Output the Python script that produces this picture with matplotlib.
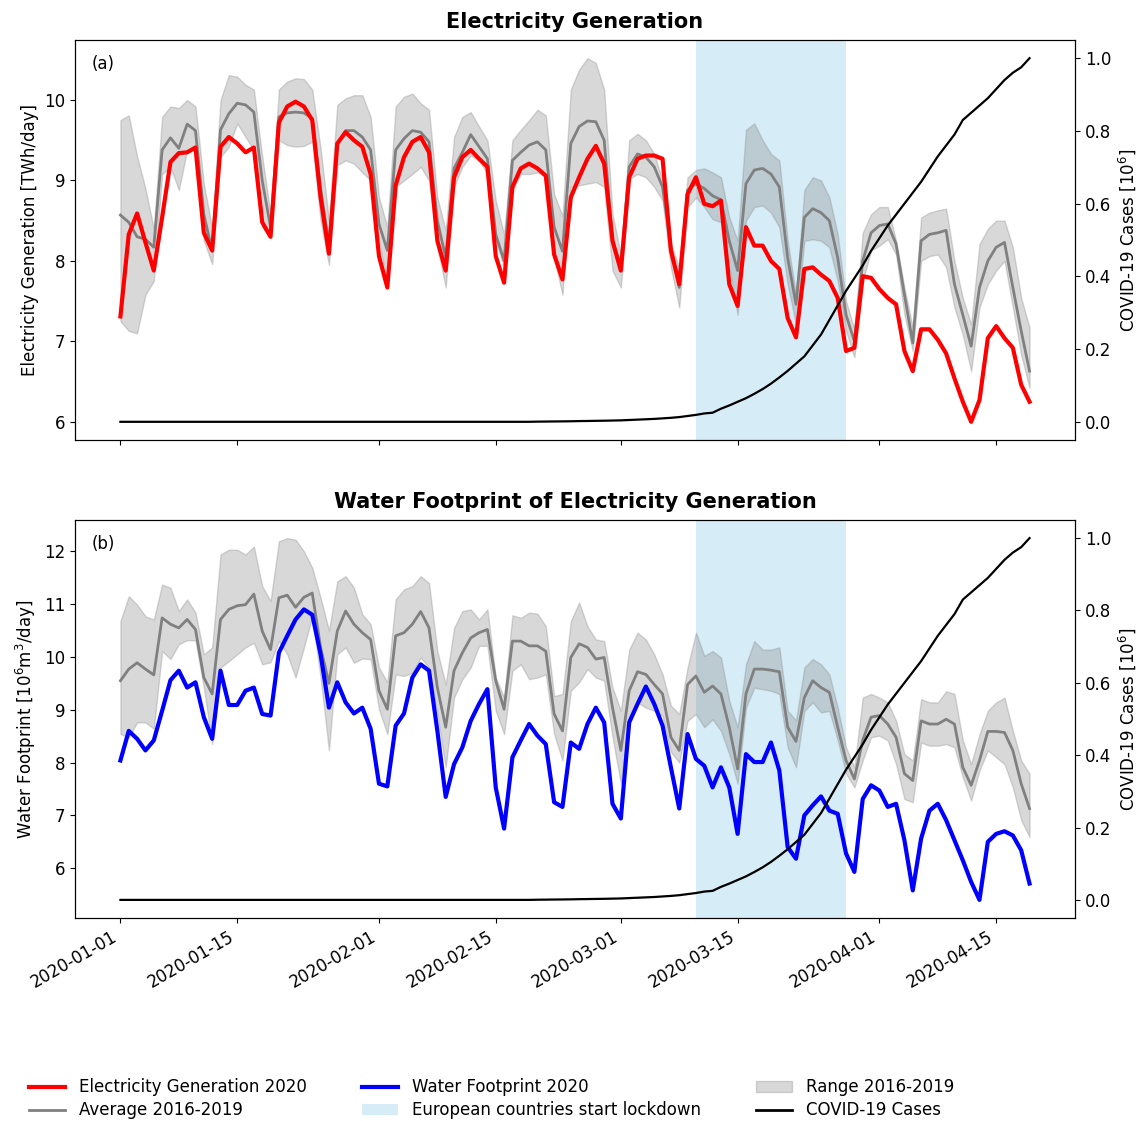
import numpy as np
import matplotlib

matplotlib.use("Agg")
import matplotlib.pyplot as plt
import matplotlib.dates as mdates
from matplotlib.lines import Line2D
from matplotlib.patches import Patch

# daily values, 2020-01-01 .. 2020-04-19
dates = np.arange("2020-01-01", "2020-04-20", dtype="datetime64[D]")

elec_2020 = [
    7.31, 8.33, 8.59, 8.23, 7.88, 8.54, 9.23, 9.34, 9.35, 9.41,
    8.35, 8.13, 9.42, 9.54, 9.46, 9.35, 9.41, 8.48, 8.30, 9.72,
    9.92, 9.98, 9.92, 9.75, 8.79, 8.09, 9.46, 9.60, 9.50, 9.42,
    9.08, 8.06, 7.67, 8.94, 9.29, 9.48, 9.54, 9.35, 8.25, 7.88,
    9.04, 9.29, 9.38, 9.27, 9.17, 8.06, 7.73, 8.92, 9.15, 9.21,
    9.15, 9.06, 8.08, 7.77, 8.79, 9.04, 9.27, 9.43, 9.21, 8.25,
    7.88, 9.04, 9.27, 9.31, 9.31, 9.27, 8.13, 7.71, 8.83, 9.04,
    8.71, 8.68, 8.75, 7.71, 7.44, 8.42, 8.19, 8.19, 8.00, 7.90,
    7.29, 7.05, 7.90, 7.92, 7.83, 7.75, 7.54, 6.88, 6.92, 7.81,
    7.79, 7.65, 7.54, 7.46, 6.88, 6.63, 7.15, 7.15, 7.02, 6.85,
    6.54, 6.25, 6.00, 6.27, 7.04, 7.19, 7.04, 6.92, 6.46, 6.25,
]
elec_avg = [
    8.57, 8.48, 8.30, 8.27, 8.17, 9.38, 9.53, 9.40, 9.70, 9.62,
    8.58, 8.12, 9.63, 9.83, 9.96, 9.94, 9.85, 9.00, 8.42, 9.79,
    9.84, 9.85, 9.84, 9.77, 8.90, 8.20, 9.45, 9.62, 9.62, 9.54,
    9.38, 8.46, 8.13, 9.38, 9.52, 9.62, 9.60, 9.48, 8.50, 8.04,
    9.15, 9.35, 9.57, 9.42, 9.27, 8.33, 8.00, 9.25, 9.35, 9.44,
    9.48, 9.38, 8.42, 8.12, 9.46, 9.67, 9.74, 9.73, 9.50, 8.25,
    7.92, 9.17, 9.33, 9.29, 9.17, 8.92, 8.17, 7.67, 8.88, 8.96,
    8.90, 8.81, 8.76, 8.25, 7.88, 8.96, 9.13, 9.15, 9.08, 8.92,
    8.04, 7.46, 8.54, 8.65, 8.60, 8.50, 8.04, 7.33, 7.00, 8.00,
    8.35, 8.44, 8.46, 8.21, 7.58, 6.98, 8.25, 8.33, 8.35, 8.38,
    7.71, 7.33, 6.94, 7.67, 8.00, 8.17, 8.23, 7.67, 7.13, 6.63,
]
elec_max = [
    9.75, 9.81, 9.30, 8.90, 8.40, 9.79, 9.92, 9.90, 10.00, 9.92,
    8.96, 8.40, 10.00, 10.31, 10.29, 10.19, 10.13, 9.30, 8.58, 10.13,
    10.23, 10.27, 10.26, 10.13, 9.40, 8.50, 9.94, 10.02, 10.06, 10.06,
    9.79, 8.79, 8.42, 9.92, 10.04, 10.08, 9.96, 9.88, 8.79, 8.38,
    9.54, 9.79, 9.85, 9.67, 9.50, 8.75, 8.33, 9.50, 9.63, 9.75,
    9.88, 9.81, 8.83, 8.56, 10.13, 10.38, 10.52, 10.46, 10.13, 8.58,
    8.08, 9.50, 9.58, 9.50, 9.33, 9.00, 8.21, 7.92, 9.04, 9.13,
    9.15, 9.10, 9.04, 8.54, 8.25, 9.63, 9.71, 9.50, 9.33, 9.25,
    8.25, 7.58, 8.88, 9.04, 9.00, 8.79, 8.33, 7.50, 7.15, 8.35,
    8.58, 8.67, 8.67, 8.25, 7.67, 7.17, 8.54, 8.60, 8.63, 8.65,
    8.00, 7.54, 7.21, 8.21, 8.40, 8.50, 8.50, 8.17, 7.54, 7.17,
]
elec_min = [
    7.25, 7.13, 7.10, 7.58, 7.75, 9.08, 9.17, 8.88, 9.38, 9.38,
    8.25, 7.96, 9.29, 9.42, 9.71, 9.54, 9.38, 8.42, 8.29, 9.50,
    9.44, 9.42, 9.43, 9.48, 8.50, 7.95, 9.19, 9.25, 9.21, 9.10,
    9.00, 8.25, 7.72, 8.92, 9.00, 9.08, 9.17, 9.00, 8.17, 7.67,
    8.92, 9.17, 9.31, 9.25, 9.08, 8.25, 7.92, 8.88, 9.08, 9.08,
    9.10, 9.04, 8.04, 7.58, 8.92, 8.94, 8.96, 8.98, 8.92, 7.88,
    7.67, 9.02, 9.08, 9.04, 8.92, 8.75, 7.92, 7.42, 8.67, 8.79,
    8.67, 8.52, 8.48, 7.92, 7.33, 8.50, 8.67, 8.69, 8.60, 8.42,
    7.71, 7.21, 8.25, 8.27, 8.25, 8.17, 7.75, 7.13, 6.80, 7.75,
    8.13, 8.19, 8.27, 8.08, 7.33, 6.88, 8.00, 8.06, 8.08, 7.92,
    7.42, 7.08, 6.63, 7.42, 7.71, 7.88, 8.00, 7.42, 6.83, 6.42,
]

water_2020 = [
    8.04, 8.60, 8.45, 8.23, 8.42, 8.98, 9.56, 9.74, 9.42, 9.52,
    8.86, 8.45, 9.74, 9.09, 9.09, 9.36, 9.42, 8.92, 8.89, 10.08,
    10.40, 10.71, 10.90, 10.80, 10.05, 9.04, 9.52, 9.14, 8.93, 9.04,
    8.64, 7.60, 7.55, 8.70, 8.93, 9.61, 9.86, 9.74, 8.60, 7.35,
    7.97, 8.29, 8.79, 9.11, 9.39, 7.53, 6.75, 8.10, 8.42, 8.73,
    8.51, 8.35, 7.25, 7.16, 8.38, 8.26, 8.73, 9.04, 8.76, 7.22,
    6.94, 8.76, 9.11, 9.44, 9.11, 8.70, 7.91, 7.13, 8.54, 8.07,
    7.94, 7.53, 7.91, 7.53, 6.65, 8.16, 8.01, 8.01, 8.38, 7.85,
    6.40, 6.18, 7.00, 7.19, 7.36, 7.09, 7.03, 6.28, 5.93, 7.31,
    7.57, 7.47, 7.16, 7.22, 6.53, 5.58, 6.56, 7.09, 7.22, 6.91,
    6.53, 6.15, 5.74, 5.40, 6.50, 6.65, 6.70, 6.62, 6.34, 5.71,
]
water_avg = [
    9.55, 9.77, 9.89, 9.77, 9.66, 10.74, 10.62, 10.55, 10.71, 10.52,
    9.61, 9.30, 10.71, 10.90, 10.97, 10.99, 11.19, 10.49, 10.14, 11.12,
    11.17, 10.94, 11.13, 11.21, 10.18, 9.50, 10.49, 10.87, 10.62, 10.46,
    10.33, 9.36, 9.01, 10.40, 10.46, 10.62, 10.86, 10.55, 9.42, 8.67,
    9.74, 10.08, 10.36, 10.46, 10.52, 9.55, 9.01, 10.30, 10.30, 10.21,
    10.21, 10.11, 8.92, 8.60, 9.99, 10.25, 10.18, 9.96, 9.99, 9.04,
    8.23, 9.36, 9.72, 9.67, 9.48, 9.30, 8.48, 8.23, 9.48, 9.64,
    9.33, 9.45, 9.30, 8.67, 7.88, 9.30, 9.77, 9.77, 9.75, 9.72,
    8.67, 8.40, 9.23, 9.55, 9.42, 9.33, 8.67, 8.04, 7.69, 8.42,
    8.86, 8.89, 8.73, 8.48, 7.79, 7.66, 8.79, 8.73, 8.73, 8.82,
    8.73, 7.91, 7.57, 8.04, 8.59, 8.59, 8.57, 8.23, 7.60, 7.13,
]
water_max = [
    10.68, 11.15, 10.99, 10.77, 10.71, 11.37, 11.31, 10.87, 11.09, 10.84,
    10.05, 10.18, 11.94, 12.03, 12.03, 11.94, 12.09, 11.34, 11.06, 12.19,
    12.25, 12.22, 12.00, 11.69, 11.12, 10.50, 11.43, 11.53, 11.31, 10.81,
    10.62, 9.80, 9.52, 11.09, 11.28, 11.34, 11.53, 11.40, 10.11, 9.48,
    10.55, 10.87, 10.90, 10.71, 10.90, 9.61, 9.23, 10.79, 10.74, 10.84,
    10.82, 10.58, 9.26, 9.30, 10.68, 11.03, 10.58, 10.33, 10.30, 9.42,
    8.98, 10.14, 10.46, 10.33, 10.05, 9.67, 9.08, 8.92, 9.80, 10.46,
    10.02, 10.11, 9.99, 9.17, 8.67, 9.86, 10.30, 10.14, 10.14, 10.18,
    8.98, 8.80, 9.80, 9.96, 9.86, 9.67, 9.04, 8.29, 7.91, 9.23,
    9.30, 9.23, 9.14, 8.79, 8.16, 8.04, 9.20, 9.14, 9.14, 9.35,
    9.30, 8.42, 7.97, 8.54, 8.98, 9.14, 9.23, 8.60, 8.04, 7.79,
]
water_min = [
    8.54, 8.48, 8.76, 8.76, 8.64, 10.11, 9.96, 10.24, 10.32, 10.31,
    9.42, 8.35, 9.80, 9.92, 10.05, 10.18, 10.27, 9.86, 9.90, 10.30,
    10.05, 9.61, 10.18, 10.77, 9.61, 8.23, 10.05, 10.18, 9.89, 9.97,
    9.96, 9.01, 8.54, 9.67, 9.64, 9.70, 9.99, 9.80, 8.92, 7.91,
    9.23, 9.58, 9.80, 10.21, 10.21, 8.98, 8.54, 9.74, 9.86, 9.58,
    9.61, 9.67, 8.54, 8.04, 9.36, 9.52, 9.77, 9.61, 9.55, 8.48,
    7.60, 8.86, 9.14, 9.04, 8.98, 8.89, 8.20, 8.00, 8.79, 8.92,
    8.67, 8.82, 8.60, 8.16, 7.60, 9.04, 9.42, 9.39, 9.36, 9.30,
    8.29, 7.91, 8.98, 9.14, 8.95, 8.98, 8.42, 7.79, 7.53, 8.04,
    8.48, 8.51, 8.42, 7.97, 7.31, 7.25, 8.38, 8.32, 8.32, 8.35,
    8.29, 7.72, 7.28, 7.85, 8.23, 8.10, 7.97, 7.53, 6.91, 6.59,
]

covid_cases = [
    0.0, 0.0, 0.0, 0.0, 0.0, 0.0, 0.0, 0.0, 0.0, 0.0,
    0.0, 0.0, 0.0, 0.0, 0.0, 0.0, 0.0, 0.0, 0.0, 0.0,
    0.0, 0.0, 0.0, 0.0, 0.0, 0.0, 0.0, 0.0, 0.0, 0.0,
    0.0, 0.0, 0.0, 0.0, 0.0, 0.0, 0.0, 0.0, 0.0, 0.0,
    0.0, 0.0, 0.0, 0.0, 0.0, 0.0, 0.0, 0.0, 0.0, 0.0,
    0.0005, 0.0007, 0.001, 0.0012, 0.0015, 0.002, 0.0023, 0.0027, 0.003, 0.0035,
    0.004, 0.005, 0.006, 0.007, 0.008, 0.0095, 0.011, 0.013, 0.016, 0.019,
    0.023, 0.025, 0.036, 0.045, 0.055, 0.065, 0.077, 0.090, 0.105, 0.122,
    0.140, 0.160, 0.180, 0.210, 0.240, 0.280, 0.320, 0.360, 0.395, 0.430,
    0.470, 0.505, 0.540, 0.570, 0.600, 0.630, 0.660, 0.695, 0.730, 0.760,
    0.790, 0.830, 0.850, 0.870, 0.890, 0.915, 0.940, 0.960, 0.975, 1.000,
]

lockdown_start = np.datetime64("2020-03-10")
lockdown_end = np.datetime64("2020-03-28")
tick_dates = np.array(["2020-01-01", "2020-01-15", "2020-02-01", "2020-02-15",
                       "2020-03-01", "2020-03-15", "2020-04-01", "2020-04-15"],
                      dtype="datetime64[D]")

RED = "#ff0000"
BLUE = "#0000ff"
GREY = "grey"
SHADE = "#d6ecf6"
FS = 12


def draw_panel(ax, values, avg, lo, hi, color, ylabel, title, tag):
    ax.axvspan(lockdown_start, lockdown_end, color=SHADE, lw=0, zorder=0)
    ax.fill_between(dates, lo, hi, color=GREY, alpha=0.3, lw=1, zorder=1)
    ax.plot(dates, avg, color=GREY, lw=2, zorder=2)
    ax.plot(dates, values, color=color, lw=3, zorder=3)
    ax.set_ylabel(ylabel, fontsize=FS)
    ax.set_title(title, fontsize=15, fontweight="bold", pad=9)
    ax.text(0.017, 0.94, tag, transform=ax.transAxes, fontsize=FS, va="center")
    ax.tick_params(labelsize=FS)
    ax.set_xticks(tick_dates)
    ax.xaxis.set_major_formatter(mdates.DateFormatter("%Y-%m-%d"))

    tw = ax.twinx()
    tw.plot(dates, covid_cases, color="black", lw=1.6)
    tw.set_ylabel("COVID-19 Cases [10$^6$]", fontsize=FS)
    tw.set_yticks([0.0, 0.2, 0.4, 0.6, 0.8, 1.0])
    tw.tick_params(labelsize=FS)
    return tw


fig = plt.figure(figsize=(11.48, 11.21), dpi=100)
ax1 = fig.add_axes([0.0653, 0.6075, 0.8711, 0.3568])
ax2 = fig.add_axes([0.0653, 0.1811, 0.8711, 0.3550], sharex=ax1)

draw_panel(ax1, elec_2020, elec_avg, elec_min, elec_max, RED,
           "Electricity Generation [TWh/day]", "Electricity Generation", "(a)")
draw_panel(ax2, water_2020, water_avg, water_min, water_max, BLUE,
           "Water Footprint [10$^6$m$^3$/day]",
           "Water Footprint of Electricity Generation", "(b)")

plt.setp(ax1.get_xticklabels(), visible=False)
plt.setp(ax2.get_xticklabels(), rotation=30, ha="right")

handles = [
    Line2D([], [], color=RED, lw=3),
    Line2D([], [], color=GREY, lw=2),
    Line2D([], [], color=BLUE, lw=3),
    Patch(facecolor=SHADE, edgecolor="none"),
    Patch(facecolor=GREY, alpha=0.3, edgecolor=GREY),
    Line2D([], [], color="black", lw=2),
]
labels = [
    "Electricity Generation 2020", "Average 2016-2019",
    "Water Footprint 2020", "European countries start lockdown",
    "Range 2016-2019", "COVID-19 Cases",
]
fig.legend(handles, labels, loc="lower left", bbox_to_anchor=(0.012, -0.012),
           ncol=3, frameon=False, fontsize=FS, handlelength=2.2,
           handletextpad=0.8, columnspacing=3.3, labelspacing=0.3)

fig.savefig("out.png", dpi=100)
plt.close(fig)
